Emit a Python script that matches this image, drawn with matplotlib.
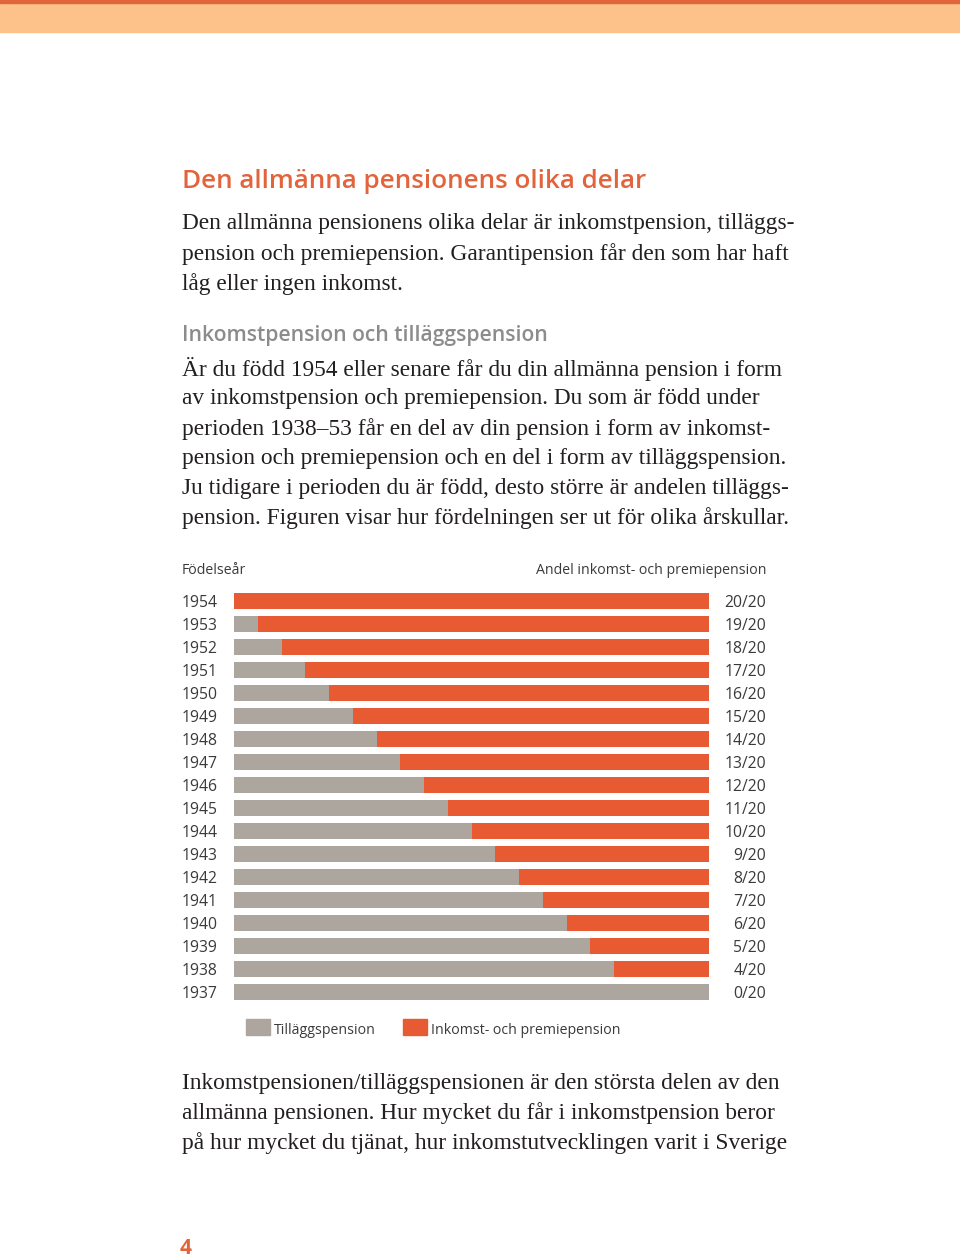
import matplotlib
matplotlib.use("Agg")
import matplotlib.pyplot as plt
import numpy as np
from matplotlib.patches import Rectangle
from matplotlib.transforms import blended_transform_factory

# data
years = ["1954", "1953", "1952", "1951", "1950", "1949", "1948", "1947", "1946",
         "1945", "1944", "1943", "1942", "1941", "1940", "1939", "1938", "1937"]
tillagg = [0, 1, 2, 3, 4, 5, 6, 7, 8, 9, 10, 11, 12, 13, 14, 15, 16, 20]
inkomst = [20, 19, 18, 17, 16, 15, 14, 13, 12, 11, 10, 9, 8, 7, 6, 5, 4, 0]
share_labels = [f"{v}/20" for v in inkomst]

GREY = "#ada69f"
ORANGE = "#e85a32"
TITLE = "#e2643c"
SUB = "#8c8c8c"
TXT = "#3a3a3a"

W, H = 960, 1258
fig = plt.figure(figsize=(W / 100, H / 100), dpi=100)
fig.patch.set_facecolor("white")


def fx(x):
    return x / W


def fy(y):
    return 1 - y / H


# header band
fig.patches.append(Rectangle((0, fy(32)), 1, 32 / H, transform=fig.transFigure,
                             color="#fcc28a", zorder=0))
fig.patches.append(Rectangle((0, fy(3)), 1, 3 / H, transform=fig.transFigure,
                             color="#e0653a", zorder=1))

sans = "Open Sans"
serif = "Liberation Serif"

fig.text(fx(182), fy(182), "Den allmänna pensionens olika delar", fontsize=18.7,
         family=sans, weight="semibold", color=TITLE, va="center")

para1 = ["Den allmänna pensionens olika delar är inkomstpension, tilläggs-",
         "pension och premiepension. Garantipension får den som har haft",
         "låg eller ingen inkomst."]
for i, line in enumerate(para1):
    fig.text(fx(182), fy(224 + 29.8 * i), line, fontsize=16.8, family=serif,
             color="#231f20", va="center")

fig.text(fx(182), fy(335), "Inkomstpension och tilläggspension", fontsize=15.2,
         family=sans, weight="semibold", color=SUB, va="center")

para2 = ["Är du född 1954 eller senare får du din allmänna pension i form",
         "av inkomstpension och premiepension. Du som är född under",
         "perioden 1938–53 får en del av din pension i form av inkomst-",
         "pension och premiepension och en del i form av tilläggspension.",
         "Ju tidigare i perioden du är född, desto större är andelen tilläggs-",
         "pension. Figuren visar hur fördelningen ser ut för olika årskullar."]
for i, line in enumerate(para2):
    fig.text(fx(182), fy(369 + 29.8 * i), line, fontsize=16.8, family=serif,
             color="#231f20", va="center")

# chart
ax = fig.add_axes([fx(234), fy(1003.5), fx(709) - fx(234), (1003.5 - 589.5) / H])
pos = np.arange(len(years))
ax.barh(pos, tillagg, height=0.7, color=GREY)
ax.barh(pos, inkomst, left=tillagg, height=0.7, color=ORANGE)
ax.set_xlim(0, 20)
ax.set_ylim(len(years) - 0.5, -0.5)
ax.axis("off")

tr = blended_transform_factory(fig.transFigure, ax.transData)
for p, yr, lab in zip(pos, years, share_labels):
    ax.text(fx(182), p + 0.1, yr, transform=tr, fontsize=11.3, family=sans,
            color=TXT, va="center", ha="left")
    ax.text(fx(766), p + 0.1, lab, transform=tr, fontsize=11.3, family=sans,
            color=TXT, va="center", ha="right")

fig.text(fx(182), fy(571), "Födelseår", fontsize=10.2, family=sans,
         color=TXT, va="center")
fig.text(fx(766), fy(571), "Andel inkomst- och premiepension", fontsize=10.2,
         family=sans, color=TXT, va="center", ha="right")

# legend
fig.patches.append(Rectangle((fx(246), fy(1035)), 24 / W, 16 / H,
                             transform=fig.transFigure, color=GREY))
fig.text(fx(274), fy(1030), "Tilläggspension", fontsize=10.2, family=sans,
         color=TXT, va="center")
fig.patches.append(Rectangle((fx(403), fy(1035)), 24 / W, 16 / H,
                             transform=fig.transFigure, color=ORANGE))
fig.text(fx(431), fy(1030), "Inkomst- och premiepension", fontsize=10.2,
         family=sans, color=TXT, va="center")

para3 = ["Inkomstpensionen/tilläggspensionen är den största delen av den",
         "allmänna pensionen. Hur mycket du får i inkomstpension beror",
         "på hur mycket du tjänat, hur inkomstutvecklingen varit i Sverige"]
for i, line in enumerate(para3):
    fig.text(fx(182), fy(1083 + 29.8 * i), line, fontsize=16.8, family=serif,
             color="#231f20", va="center")

fig.text(fx(180), fy(1248), "4", fontsize=15, family=sans, weight="bold",
         color=TITLE, va="center")

fig.savefig("out.png", dpi=100, facecolor="white")
plt.close(fig)
